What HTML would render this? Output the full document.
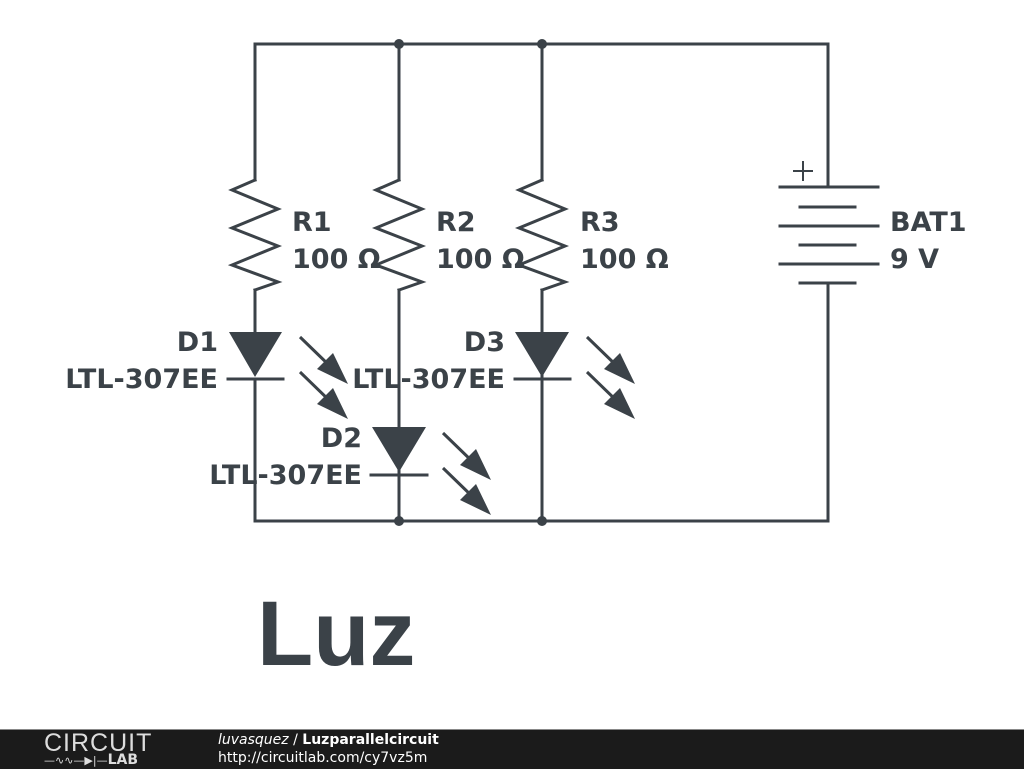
<!DOCTYPE html>
<html><head><style>
body{margin:0;background:#fff;width:1024px;height:768px;overflow:hidden;position:relative;font-family:"DejaVu Sans",sans-serif}
#bar{position:absolute;left:0;top:729px;width:1024px;height:39px;background:#1b1b1b;border-top:1px solid #888}
</style></head><body>
<svg width="1024" height="768" style="position:absolute;left:0;top:0">
<g stroke="#3b4248" stroke-width="3" fill="none" stroke-linecap="square">
<path d="M255,180 V44 H828 V187"/>
<path d="M828,283 V521 H255 V379"/>
<path d="M399,44 V180"/><path d="M542,44 V180"/>
<path d="M399,290 V521"/><path d="M542,290 V521"/>
<path d="M255,290 V335"/>
<g stroke-linejoin="miter">
<path d="M255,180 L232,190 L278,209 L232,228 L278,246 L232,265 L278,282 L255,290"/>
<path d="M399,180 L376,190 L422,209 L376,228 L422,246 L376,265 L422,282 L399,290"/>
<path d="M542,180 L519,190 L565,209 L519,228 L565,246 L519,265 L565,282 L542,290"/>
</g>
<path d="M228,379 H283"/><path d="M371,475 H427"/><path d="M515,379 H570"/>
<path d="M780,187 H878"/><path d="M800,207 H855"/><path d="M780,226 H878"/><path d="M800,245 H855"/><path d="M780,264 H878"/><path d="M800,283 H855"/>
<path d="M794,171 H812 M803,162 V180" stroke-width="2"/>
</g>
<g fill="#3b4248">
<polygon points="229,332 282,332 255,377"/>
<polygon points="372,427 426,427 399,472"/>
<polygon points="515,332 569,332 542,377"/>
<circle cx="399" cy="44" r="5"/><circle cx="542" cy="44" r="5"/>
<circle cx="399" cy="521" r="5"/><circle cx="542" cy="521" r="5"/>
</g>
<g stroke="#3b4248" stroke-width="3" fill="#3b4248">
<g id="arr"><line x1="300" y1="337" x2="333" y2="369"/><polygon points="348,384 317,369 333,353" stroke="none"/>
<line x1="300" y1="372" x2="333" y2="404"/><polygon points="348,419 317,404 333,388" stroke="none"/></g>
<use href="#arr" x="143" y="96"/>
<use href="#arr" x="287" y="0"/>
</g>
<g fill="#3b4248" font-family="DejaVu Sans, sans-serif" font-weight="bold" font-size="27">
<text x="292" y="231">R1</text><text x="292" y="268">100 Ω</text>
<text x="436" y="231">R2</text><text x="436" y="268">100 Ω</text>
<text x="580" y="231">R3</text><text x="580" y="268">100 Ω</text>
<text x="890" y="231">BAT1</text><text x="890" y="268">9 V</text>
<text x="218" y="351" text-anchor="end">D1</text><text x="218" y="388" text-anchor="end">LTL-307EE</text>
<text x="362" y="447" text-anchor="end">D2</text><text x="362" y="484" text-anchor="end">LTL-307EE</text>
<text x="505" y="351" text-anchor="end">D3</text><text x="505" y="388" text-anchor="end">LTL-307EE</text>
<text x="257" y="665" font-size="92" font-family="Liberation Sans, sans-serif">Luz</text>
</g>
</svg>
<div id="bar">
<div style="position:absolute;left:44px;top:1px;color:#ddd;font-size:25px;letter-spacing:1px;line-height:25px;font-family:'Liberation Sans',sans-serif">CIRCUIT</div>
<div style="position:absolute;left:44px;top:24px;color:#ddd;font-size:11px;line-height:12px">—∿∿—▶|—<b style="font-size:14px">LAB</b></div>
<div style="position:absolute;left:218px;top:2px;color:#fff;font-size:14px;line-height:16px"><i>luvasquez</i> / <b>Luzparallelcircuit</b></div>
<div style="position:absolute;left:218px;top:20px;color:#fff;font-size:14px;line-height:16px">http://circuitlab.com/cy7vz5m</div>
</div>
</body></html>
